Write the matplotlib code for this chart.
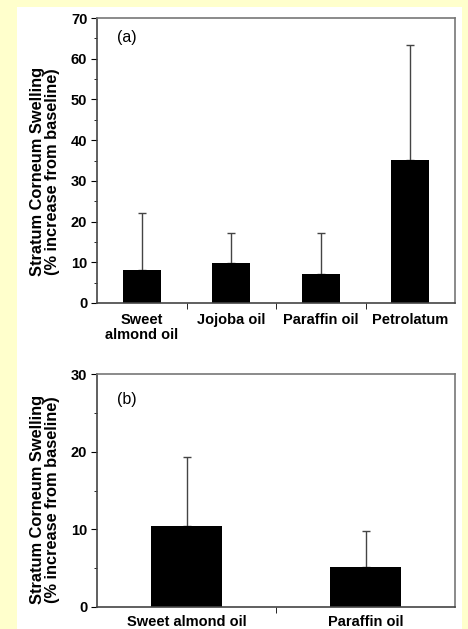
import numpy as np
import matplotlib.pyplot as plt
from matplotlib.patches import Rectangle

# Panel (a) data
oils_a = ['Sweet\nalmond oil', 'Jojoba oil', 'Paraffin oil', 'Petrolatum']
swell_a = [8.2, 9.8, 7.2, 35.1]
err_a = [13.8, 7.3, 10.0, 28.3]

# Panel (b) data
oils_b = ['Sweet almond oil', 'Paraffin oil']
swell_b = [10.4, 5.1]
err_b = [8.9, 4.7]

plt.rcParams['font.family'] = ['Liberation Sans', 'DejaVu Sans']

fig = plt.figure(figsize=(4.68, 6.29), dpi=100)
fig.patch.set_facecolor('#ffffcc')
# white inner panel
fig.patches.append(Rectangle((17 / 468, 0), 445 / 468, 622 / 629, transform=fig.transFigure,
                             facecolor='white', edgecolor='none', zorder=-1))

ylab = 'Stratum Corneum Swelling\n(% increase from baseline)'


def style_axes(ax, n, ymax, step, label_y):
    x = np.arange(n)
    ax.set_xlim(-0.5, n - 0.5)
    ax.set_ylim(0, ymax)
    ax.set_yticks(np.arange(0, ymax + 1, step))
    ax.set_yticks(np.arange(step / 2, ymax, step), minor=True)
    ax.set_xticks(x)
    ax.set_xticks(np.arange(0.5, n - 0.5, 1), minor=True)
    ax.tick_params(axis='x', which='major', length=0, pad=7)
    ax.tick_params(axis='x', which='minor', length=4, direction='out')
    ax.tick_params(axis='y', which='major', length=4, direction='out', pad=3)
    ax.tick_params(axis='y', which='minor', length=2.5, direction='out')
    for lab in ax.get_xticklabels() + ax.get_yticklabels():
        lab.set_fontweight('bold')
        lab.set_fontsize(10.5)
    for side in ['top', 'right']:
        ax.spines[side].set_color('#777777')
    for side in ['left', 'bottom']:
        ax.spines[side].set_color('#444444')
    for s in ax.spines.values():
        s.set_linewidth(1.2)
    ax.set_ylabel(ylab, fontsize=11.8, fontweight='bold', linespacing=1.05)
    ax.yaxis.set_label_coords(-0.103, label_y)


# (a)
ax1 = fig.add_axes([97 / 468, 1 - 303 / 629, 358 / 468, 285 / 629])
xa = np.arange(len(oils_a))
ax1.bar(xa, swell_a, width=0.42, color='black', zorder=2)
ax1.errorbar(xa, swell_a, yerr=[np.zeros(len(err_a)), err_a], fmt='none',
             ecolor='#444444', elinewidth=1, capsize=2.6, capthick=1, zorder=1)
ax1.set_xticklabels(oils_a, linespacing=1.1)
style_axes(ax1, len(oils_a), 70, 10, 0.46)
ax1.text(0.055, 0.93, '(a)', transform=ax1.transAxes, fontsize=11.5, va='center')

# (b)
ax2 = fig.add_axes([97 / 468, 1 - 607 / 629, 358 / 468, 233 / 629])
xb = np.arange(len(oils_b))
ax2.bar(xb, swell_b, width=0.4, color='black', zorder=2)
ax2.errorbar(xb, swell_b, yerr=[np.zeros(len(err_b)), err_b], fmt='none',
             ecolor='#444444', elinewidth=1, capsize=2.6, capthick=1, zorder=1)
ax2.set_xticklabels(oils_b)
style_axes(ax2, len(oils_b), 30, 10, 0.46)
ax2.tick_params(axis='x', which='major', pad=6)
ax2.text(0.055, 0.89, '(b)', transform=ax2.transAxes, fontsize=11.5, va='center')

fig.savefig('out.png', dpi=100, facecolor=fig.get_facecolor())
